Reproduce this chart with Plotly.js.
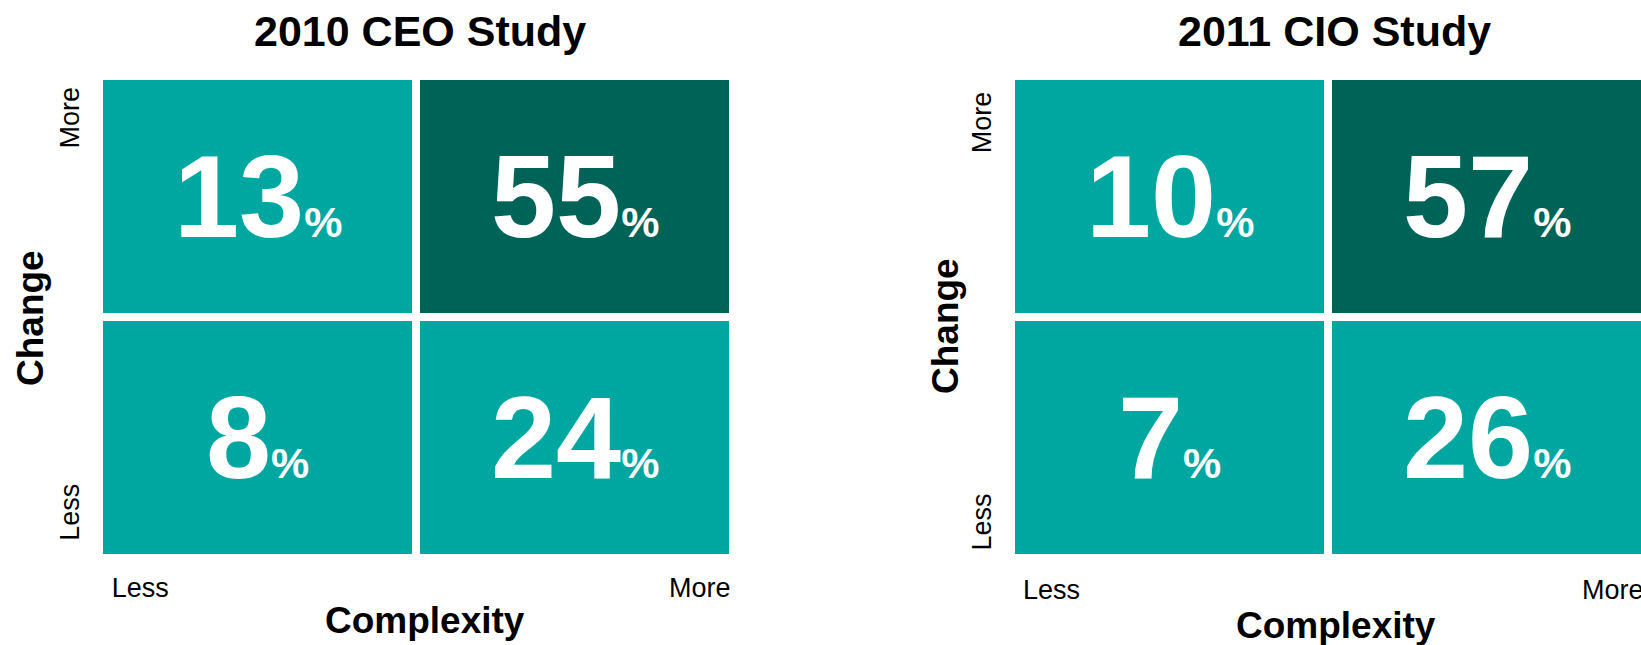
<!DOCTYPE html>
<html><head><meta charset="utf-8">
<script src="https://cdn.plot.ly/plotly-3.0.1.min.js"></script>
<style>html,body{margin:0;padding:0;overflow:hidden;background:#fff}</style>
</head><body><div id="chart" style="width:1645px;height:645px"></div>
<script>
// ---- data ----
const studies = ["2010 CEO Study", "2011 CIO Study"];
const complexityLevels = ["Less", "More"];   // columns (x)
const changeLevels = ["Less", "More"];       // rows (y), bottom to top
// share of respondents, percent: rows = change (Less, More), cols = complexity (Less, More)
const ceo2010 = [[8, 24], [13, 55]];
const cio2011 = [[7, 26], [10, 57]];
const xAxisTitle = "Complexity";
const yAxisTitle = "Change";

// ---- styling / layout ----
const W = 1645, H = 645;
const TEAL = "rgb(0,167,160)", DARK = "rgb(0,99,88)";
const FONT = "Liberation Sans, Arial, Helvetica, sans-serif";
const px = x => x / W, py = y => 1 - y / H;

const panels = [
  {values: ceo2010, xdom: [99/W, 733/W], xt: [-0.37, 1.395], yt: [-0.327, 1.31],
   titleX: 420, xTitle: [425, 620], yTitle: [30, 318]},
  {values: cio2011, xdom: [1011/W, 1.0], xt: [-0.372, 1.398], yt: [-0.367, 1.29],
   titleX: 1334, xTitle: [1336, 625], yTitle: [945, 326]}
];
const ydom = [(H - 558) / H, (H - 76) / H];

const data = [], annotations = [];
const layout = {
  width: W, height: H, margin: {l: 0, r: 0, t: 0, b: 0},
  paper_bgcolor: "#fff", plot_bgcolor: "#fff", showlegend: false,
  font: {family: FONT, color: "#000"}, annotations
};

panels.forEach((p, k) => {
  const xa = k === 0 ? "x" : "x2", ya = k === 0 ? "y" : "y2";
  const xk = k === 0 ? "xaxis" : "xaxis2", yk = k === 0 ? "yaxis" : "yaxis2";
  data.push({
    type: "heatmap",
    x: complexityLevels.map((_, i) => i),
    y: changeLevels.map((_, i) => i),
    z: p.values,
    zmin: 0, zmax: 100,
    colorscale: [[0, TEAL], [0.5, TEAL], [0.5, DARK], [1, DARK]],
    showscale: false, xgap: 8, ygap: 8, hoverinfo: "skip",
    xaxis: xa, yaxis: ya
  });
  layout[xk] = {
    domain: p.xdom, range: [-0.5, 1.5], anchor: ya,
    showgrid: false, zeroline: false, showline: false, ticks: "",
    tickvals: p.xt, ticktext: complexityLevels, ticklabelstandoff: 11 + k * 2,
    tickfont: {size: 27, family: FONT, color: "#000"}, fixedrange: true
  };
  layout[yk] = {
    domain: ydom, range: [-0.5, 1.5], anchor: xa,
    showgrid: false, zeroline: false, showline: false, ticks: "",
    tickvals: p.yt, ticktext: changeLevels, tickangle: -90, ticklabelstandoff: 14,
    tickfont: {size: 27, family: FONT, color: "#000"}, fixedrange: true
  };
  // cell values
  p.values.forEach((row, i) => row.forEach((v, j) => {
    annotations.push({
      xref: xa, yref: ya, x: j, y: i, showarrow: false,
      xanchor: "center", yanchor: "middle",
      text: v + '<span style="font-size:43px">%</span>',
      font: {size: 117, family: FONT, color: "#fff", weight: "bold"}
    });
  }));
  // panel title
  annotations.push({
    xref: "paper", yref: "paper", x: px(p.titleX), y: py(31), showarrow: false,
    xanchor: "center", yanchor: "middle", text: studies[k],
    font: {size: 43, family: FONT, color: "#000", weight: "bold"}
  });
  annotations.push({
    xref: "paper", yref: "paper", x: px(p.xTitle[0]), y: py(p.xTitle[1]), showarrow: false,
    xanchor: "center", yanchor: "middle", text: xAxisTitle,
    font: {size: 37, family: FONT, color: "#000", weight: "bold"}
  });
  annotations.push({
    xref: "paper", yref: "paper", x: px(p.yTitle[0]), y: py(p.yTitle[1]), showarrow: false,
    xanchor: "center", yanchor: "middle", text: yAxisTitle, textangle: -90,
    font: {size: 37, family: FONT, color: "#000", weight: "bold"}
  });
});

Plotly.newPlot("chart", data, layout, {displayModeBar: false, staticPlot: true});
</script>
</body></html>
